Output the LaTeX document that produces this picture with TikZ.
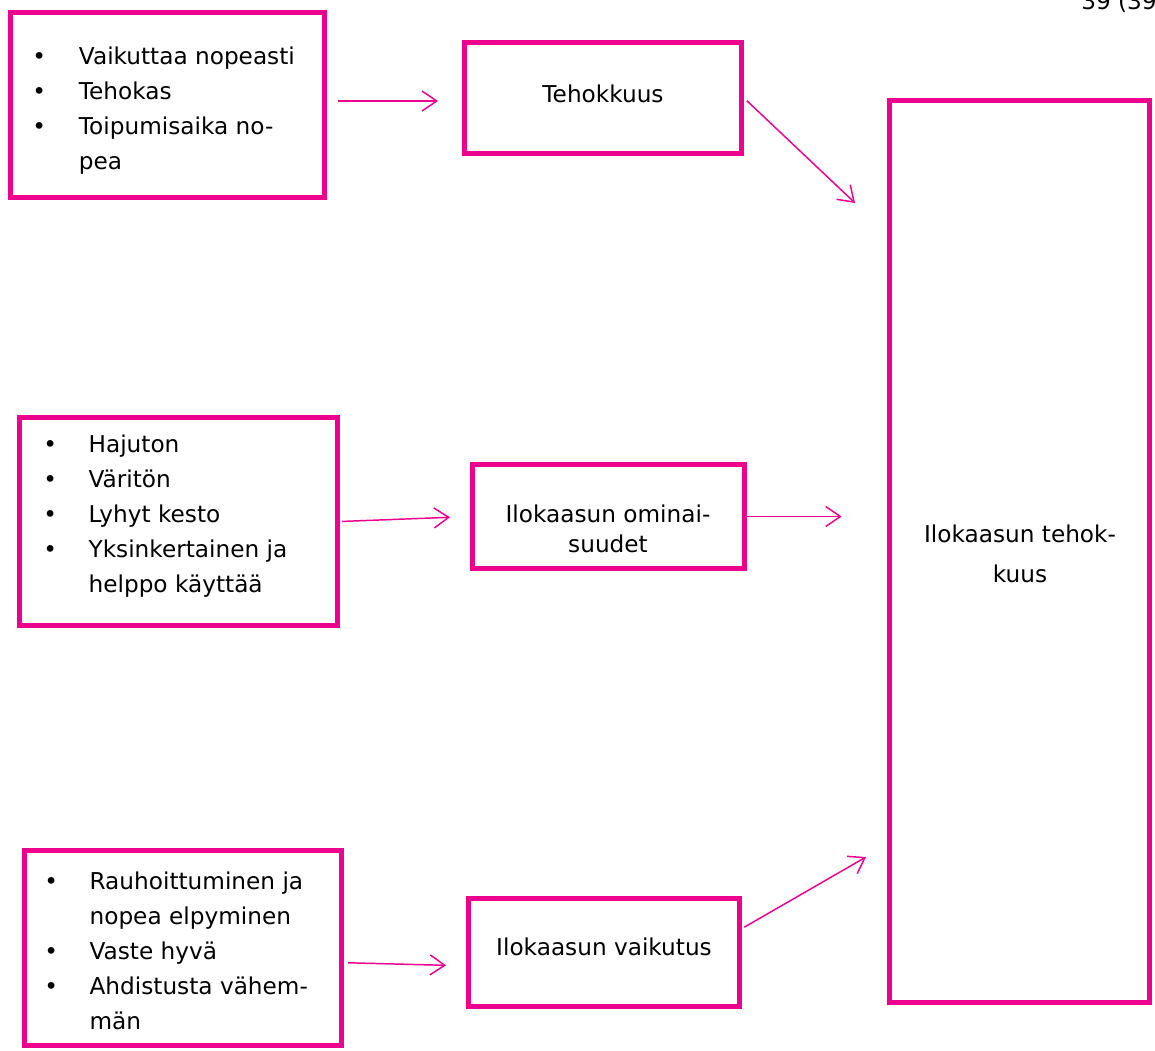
\documentclass[tikz,border=0pt]{standalone}
\usepackage{fontspec}
\setmainfont{DejaVu Sans}
\usetikzlibrary{arrows.meta,calc}
\definecolor{kaasu}{RGB}{236,0,140}
\tikzset{line/.style={draw=kaasu, line width=1.1pt, -{Straight Barb[length=11pt,width=15pt,line width=1.1pt]}}}

\begin{document}
\begin{tikzpicture}[x=0.75pt,y=-0.75pt]
\tikzstyle{block} = [rectangle, draw=kaasu, line width=3.75pt, inner sep=0pt]
\tikzstyle{bullets} = [anchor=base west, inner sep=0pt, font=\fontsize{17.4}{26.25}\selectfont]
\tikzstyle{boxtext} = [anchor=base, inner sep=0pt, align=center, font=\fontsize{17.4}{22.5}\selectfont]

\useasboundingbox (0,0) rectangle (1155,1050);

% page number (cut off)
    \node [anchor=base west, inner sep=0pt, font=\fontsize{17.4}{20}\selectfont] (pagenum) at (1081,9) {39 (39};
% blocks
    % top row
    \node [block, minimum width=235.5pt, minimum height=138.75pt] (list1) at (167.5,105) {};
    \node [bullets] (list1 text) at (32,64) {\begin{tabular}[t]{@{}p{35pt}@{}l@{}}
\textbullet & Vaikuttaa nopeasti\\
\textbullet & Tehokas\\
\textbullet & Toipumisaika no-\\
 & pea
\end{tabular}};
    \node [block, minimum width=207.75pt, minimum height=83.25pt] (tehok) at (603,98) {};
    \node [boxtext] (tehok text) at (603,102) {Tehokkuus};
    % middle row
    \node [block, minimum width=238.5pt, minimum height=156pt] (list2) at (178.5,521.5) {};
    \node [bullets] (list2 text) at (43,452) {\begin{tabular}[t]{@{}p{34pt}@{}l@{}}
\textbullet & Hajuton\\
\textbullet & Väritön\\
\textbullet & Lyhyt kesto\\
\textbullet & Yksinkertainen ja\\
 & helppo käyttää
\end{tabular}};
    \node [block, minimum width=204pt, minimum height=78pt] (omin) at (608.5,516.5) {};
    \node [boxtext] (omin text) at (608,552) {Ilokaasun ominai-\\suudet};
    % bottom row
    \node [block, minimum width=237.75pt, minimum height=146.25pt] (list3) at (183,948) {};
    \node [bullets] (list3 text) at (44,889) {\begin{tabular}[t]{@{}p{34pt}@{}l@{}}
\textbullet & Rauhoittuminen ja\\
 & nopea elpyminen\\
\textbullet & Vaste hyvä\\
\textbullet & Ahdistusta vähem-\\
 & män
\end{tabular}};
    \node [block, minimum width=203.25pt, minimum height=81pt] (vaik) at (604,952.5) {};
    \node [boxtext] (vaik text) at (604,955) {Ilokaasun vaikutus};
    % result
    \node [block, minimum width=195pt, minimum height=676.5pt] (tulos) at (1019.5,551.5) {};
    \node [boxtext, font=\fontsize{17.4}{30}\selectfont] (tulos text) at (1020,582) {Ilokaasun tehok-\\kuus};
    \coordinate (tulos top) at (855,203);
    \coordinate (tulos low) at (866,857);
% arrows
    \path [line, shorten <=8pt, shorten >=18pt] (list1.east |- 0,101) -- (tehok.west |- 0,101);
    \path [line, shorten <=3pt] (tehok.east) -- (tulos top);
    \path [line, shorten <=1.5pt, shorten >=15pt] (list2.east) -- (omin.west);
    \path [line, shorten >=34pt] (omin.east) -- (omin.east -| tulos.west);
    \path [line, shorten <=3pt, shorten >=15pt] ([yshift=-11pt]list3.east) -- ([yshift=-10pt]vaik.west);
    \path [line, shorten <=2pt] ([yshift=18pt]vaik.east) -- (tulos low);
\end{tikzpicture}
\end{document}
